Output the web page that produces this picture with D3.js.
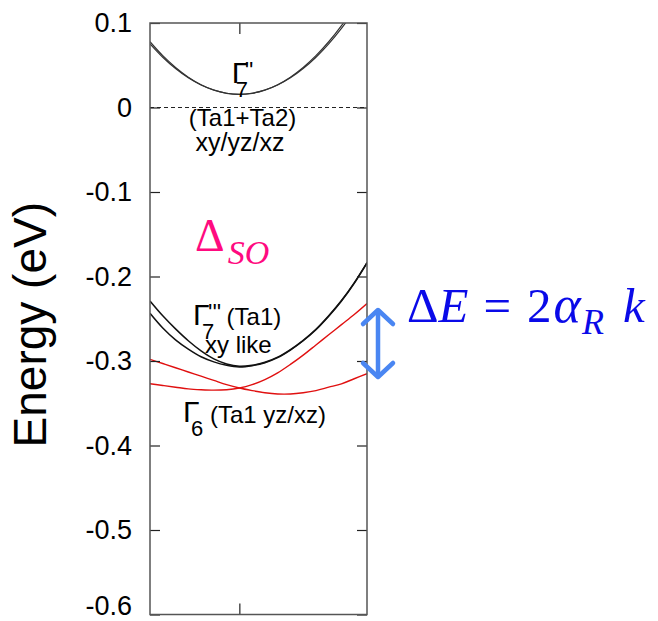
<!DOCTYPE html>
<html>
<head>
<meta charset="utf-8">
<script src="https://cdn.jsdelivr.net/npm/d3@7"></script>
<style>
  body { margin: 0; background: #fff; }
  svg { display: block; }
  text { font-family: 'Liberation Sans', Arial, sans-serif; }
</style>
</head>
<body>
<div id="chart"></div>
<script>
// band energies (eV) near Gamma
let kGrid = [-0.7, -0.6, -0.5, -0.4, -0.3, -0.2, -0.1, 0, 0.1, 0.2, 0.3, 0.4, 0.5, 0.6, 0.7, 0.8, 0.9, 1.0]

let g7ppOuter = [0.0778, 0.0613, 0.0474, 0.0359, 0.0270, 0.0207, 0.0169, 0.0156, 0.0169, 0.0207, 0.0270, 0.0359, 0.0474, 0.0613, 0.0778, 0.0969, 0.1185, 0.143]
let g7ppInner = [0.0754, 0.0595, 0.0461, 0.0351, 0.0266, 0.0205, 0.0168, 0.0156, 0.0168, 0.0205, 0.0266, 0.0351, 0.0461, 0.0595, 0.0754, 0.0937, 0.1144, 0.138]

let g7pppUpper = [-0.229, -0.2465, -0.262, -0.276, -0.288, -0.2975, -0.3035, -0.3062, -0.305, -0.3015, -0.2955, -0.2865, -0.2755, -0.2625, -0.2465, -0.2285, -0.2075, -0.1835]
let g7pppLower = [-0.2436, -0.261, -0.275, -0.286, -0.295, -0.301, -0.305, -0.307, -0.3055, -0.302, -0.296, -0.287, -0.276, -0.263, -0.247, -0.229, -0.208, -0.184]

let g6A = [-0.298, -0.303, -0.308, -0.313, -0.318, -0.323, -0.328, -0.332, -0.335, -0.3375, -0.339, -0.339, -0.3375, -0.335, -0.331, -0.327, -0.321, -0.315]
let g6B = [-0.327, -0.329, -0.331, -0.333, -0.334, -0.3345, -0.334, -0.332, -0.328, -0.322, -0.314, -0.304, -0.293, -0.281, -0.269, -0.257, -0.245, -0.232]

let yTicks = [0.1, 0, -0.1, -0.2, -0.3, -0.4, -0.5, -0.6]
let yTickLabels = ['0.1', '0', '-0.1', '-0.2', '-0.3', '-0.4', '-0.5', '-0.6']
let xTicks = [0]

let width = 658, height = 621
let svg = d3.select('#chart').append('svg')
    .attr('width', width)
    .attr('height', height)

// plot box
let x = d3.scaleLinear().domain([-0.7, 1.0]).range([150, 367])
let y = d3.scaleLinear().domain([-0.6, 0.1]).range([614.5, 23])

svg.append('clipPath').attr('id', 'clip')
    .append('rect')
    .attr('x', x.range()[0]).attr('y', y.range()[1])
    .attr('width', x.range()[1] - x.range()[0])
    .attr('height', y.range()[0] - y.range()[1])

// zero line
svg.append('line')
    .attr('x1', x(-0.7)).attr('x2', x(1.0))
    .attr('y1', y(0)).attr('y2', y(0))
    .attr('stroke', '#222')
    .attr('stroke-width', 1)
    .attr('stroke-dasharray', '4,3')

// bands
let line = d3.line()
    .x((d, i) => x(kGrid[i]))
    .y(d => y(d))
    .curve(d3.curveCatmullRom)

let bands = [
    {vals: g7ppOuter, color: '#333', w: 1.2},
    {vals: g7ppInner, color: '#333', w: 1.2},
    {vals: g7pppUpper, color: '#111', w: 1.5},
    {vals: g7pppLower, color: '#111', w: 1.5},
    {vals: g6A, color: '#e01010', w: 1.4},
    {vals: g6B, color: '#e01010', w: 1.4}
]

svg.append('g').attr('clip-path', 'url(#clip)')
    .selectAll('path')
    .data(bands)
    .enter()
    .append('path')
    .attr('d', b => line(b.vals))
    .attr('fill', 'none')
    .attr('stroke', b => b.color)
    .attr('stroke-width', b => b.w)

// axes, ticks point inward
let left = svg.append('g')
    .attr('transform', `translate(${x(-0.7)},0)`)
    .call(d3.axisLeft(y).tickValues(yTicks).tickSizeInner(-10).tickSizeOuter(0).tickPadding(18)
        .tickFormat((d, i) => yTickLabels[i]))
left.selectAll('text').style('font-size', '27px').attr('fill', '#000')
// the bottom label sits a little higher so it stays inside the picture
left.selectAll('text').filter(d => d === -0.6).attr('y', -9)

svg.append('g')
    .attr('transform', `translate(${x(1.0)},0)`)
    .call(d3.axisRight(y).tickValues(yTicks).tickSizeInner(-10).tickSizeOuter(0).tickFormat(''))

svg.append('g')
    .attr('transform', `translate(0,${y(0.1)})`)
    .call(d3.axisTop(x).tickValues(xTicks).tickSizeInner(-11).tickSizeOuter(0).tickFormat(''))

svg.append('g')
    .attr('transform', `translate(0,${y(-0.6)})`)
    .call(d3.axisBottom(x).tickValues(xTicks).tickSizeInner(-11).tickSizeOuter(0).tickFormat(''))

svg.selectAll('.domain').remove()
svg.selectAll('.tick line').attr('stroke', '#222').attr('stroke-width', 1.2)

svg.append('rect')
    .attr('x', x(-0.7)).attr('y', y(0.1))
    .attr('width', x(1.0) - x(-0.7))
    .attr('height', y(-0.6) - y(0.1))
    .attr('fill', 'none')
    .attr('stroke', '#555')
    .attr('stroke-width', 1.5)

// y label
svg.append('text')
    .attr('transform', `translate(46,${(y(0.1) + y(-0.6)) / 2 + 6}) rotate(-90)`)
    .attr('text-anchor', 'middle')
    .style('font-size', '46px')
    .text('Energy (eV)')

// gamma labels: big Gamma, subscript, primes
function gammaLabel(px, py, sub, subDx, primes, primeDx) {
    svg.append('text').attr('x', px).attr('y', py).style('font-size', '30px').text('Γ')
    svg.append('text').attr('x', px + subDx).attr('y', py + 14).style('font-size', '22px').text(sub)
    if (primes) {
        svg.append('text').attr('x', px + primeDx).attr('y', py - 4).style('font-size', '23px').text(primes)
    }
}

gammaLabel(x(-0.06), y(0.029), '7', 4, "''", 13)
svg.append('text').attr('x', x(0.025)).attr('y', y(-0.022))
    .attr('text-anchor', 'middle').style('font-size', '24px').text('(Ta1+Ta2)')
svg.append('text').attr('x', x(0.005)).attr('y', y(-0.0515))
    .attr('text-anchor', 'middle').style('font-size', '25px').text('xy/yz/xz')

gammaLabel(x(-0.363), y(-0.2574), '7', 9, "'''", 15)
svg.append('text').attr('x', x(-0.1)).attr('y', y(-0.2574)).style('font-size', '24px').text('(Ta1)')
svg.append('text').attr('x', x(-0.269)).attr('y', y(-0.2905)).style('font-size', '24px').text('xy like')

gammaLabel(x(-0.442), y(-0.372), '6', 8, null, 0)
svg.append('text').attr('x', x(-0.23)).attr('y', y(-0.373)).style('font-size', '24px').text('(Ta1 yz/xz)')

// spin-orbit gap label
let so = svg.append('text').attr('x', x(-0.347)).attr('y', y(-0.170))
    .attr('fill', '#ff0a7f')
    .style('font-family', "'Liberation Serif', 'Times New Roman', serif")
    .style('font-size', '46px')
so.append('tspan').text('Δ')
so.append('tspan').attr('dy', 13).attr('dx', 3).style('font-style', 'italic').style('font-size', '34px').text('SO')

// Rashba splitting arrow and formula
let ax = x(1.0) + 11
let arrow = svg.append('g')
    .attr('stroke', '#4a86f2')
    .attr('stroke-width', 4.5)
    .attr('stroke-linecap', 'round')
    .attr('stroke-linejoin', 'round')
    .attr('fill', 'none')
arrow.append('line').attr('x1', ax).attr('x2', ax).attr('y1', 311).attr('y2', 375)
arrow.append('path').attr('d', `M${ax - 15},${324} L${ax},${310} L${ax + 15},${324}`)
arrow.append('path').attr('d', `M${ax - 15},${363} L${ax},${377} L${ax + 15},${363}`)

let f = svg.append('text').attr('x', 407).attr('y', 322)
    .attr('fill', '#0a0ae8')
    .style('font-family', "'Liberation Serif', 'Times New Roman', serif")
    .style('font-size', '49px')
f.append('tspan').text('Δ')
f.append('tspan').style('font-style', 'italic').text('E')
f.append('tspan').attr('dx', 15).text('=')
f.append('tspan').attr('dx', 16).text('2')
f.append('tspan').attr('dx', 2).style('font-style', 'italic').style('font-size', '52px').text('α')
f.append('tspan').attr('dy', 12).attr('dx', 1).style('font-style', 'italic').style('font-size', '36px').text('R')
f.append('tspan').attr('dy', -12).attr('dx', 19).style('font-style', 'italic').text('k')
</script>
</body>
</html>
